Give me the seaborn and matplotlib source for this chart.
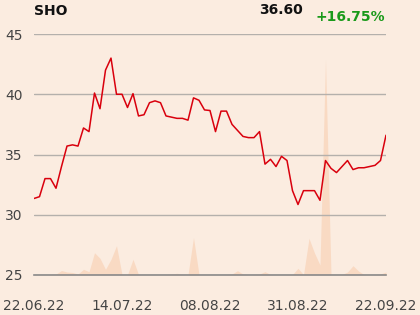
import matplotlib
matplotlib.use("Agg")
import matplotlib.pyplot as plt
import seaborn as sns
import pandas as pd
import numpy as np

# ---- data ----
price = [31.35, 31.5, 33.0, 33.0, 32.2, 34.0, 35.7, 35.8, 35.7, 37.2,
         36.9, 40.1, 38.8, 42.0, 43.0, 40.0, 40.0, 38.9, 40.05, 38.2,
         38.3, 39.3, 39.45, 39.3, 38.2, 38.1, 38.0, 38.0, 37.85, 39.7,
         39.5, 38.7, 38.65, 36.9, 38.6, 38.6, 37.5, 37.0, 36.5, 36.4,
         36.4, 36.9, 34.2, 34.6, 34.0, 34.85, 34.5, 32.0, 30.85, 32.0,
         32.0, 32.0, 31.2, 34.5, 33.85, 33.5, 34.0, 34.5, 33.75, 33.9,
         33.9, 34.0, 34.1, 34.5, 36.6]
volume = [3, 3, 3, 5, 10, 45, 30, 25, 10, 57,
          33, 223, 167, 57, 157, 293, 5, 3, 157, 5,
          3, 3, 3, 3, 5, 10, 17, 5, 3, 375,
          3, 3, 3, 3, 3, 5, 10, 43, 10, 3,
          5, 10, 33, 5, 3, 3, 5, 5, 67, 3,
          367, 220, 100, 2157, 3, 3, 5, 30, 93, 40,
          5, 3, 5, 10, 30]
tick_pos = [0, 16, 32, 48, 64]
tick_labels = ["22.06.22", "14.07.22", "08.08.22", "31.08.22", "22.09.22"]
ticker = "SHO"
last_price = "36.60"
change = "+16.75%"

df = pd.DataFrame({"idx": range(len(price)), "price": price, "volume": volume})

bg = "#FBECE0"
sns.set_style("white")
plt.rcParams["font.family"] = ["DejaVu Sans"]

fig = plt.figure(figsize=(4.2, 3.15), dpi=100, facecolor=bg)
ax = fig.add_axes([34/420, 40/315, 352/420, 241/315])
axv = ax.twinx()
ax.set_zorder(axv.get_zorder() + 1)
ax.patch.set_visible(False)
axv.patch.set_visible(False)
fig.patch.set_facecolor(bg)

# volume area
axv.fill_between(df["idx"], 0, df["volume"], color="#F9D9C2", lw=0, alpha=0.95)
axv.set_ylim(0, max(volume) / 0.895)
axv.set_yticks([])
for s in axv.spines.values():
    s.set_visible(False)

# price line
sns.lineplot(data=df, x="idx", y="price", ax=ax, color="#D9000D", lw=1.1)
ax.set_xlim(0, len(price) - 1)
ax.set_ylim(25, 45)
ax.set_yticks([25, 30, 35, 40, 45])
ax.set_yticklabels(["25", "30", "35", "40", "45"])
ax.grid(axis="y", color="#B4B0AC", lw=1)
ax.grid(axis="x", visible=False)
ax.set_xticks(tick_pos)
ax.set_xticklabels(tick_labels)
ax.set_xlabel("")
ax.set_ylabel("")
for k in ["top", "right", "left"]:
    ax.spines[k].set_visible(False)
ax.spines["bottom"].set_color("#8A8A8A")
ax.spines["bottom"].set_linewidth(1.2)
ax.tick_params(axis="x", length=10, width=1, color="#8A8A8A", pad=7,
               labelsize=10, labelcolor="#444444", direction="out")
ax.tick_params(axis="y", length=0, pad=8, labelsize=10, labelcolor="#444444")
ax.set_axisbelow(True)

fig.text(34/420, 1 - 11/315, ticker, fontsize=10, fontweight="bold",
         color="#111111", va="center", ha="left")
fig.text(303/420, 1 - 10/315, last_price, fontsize=10, fontweight="bold",
         color="#111111", va="center", ha="right")
fig.text(385/420, 1 - 17/315, change, fontsize=10, fontweight="bold",
         color="#1A9A1A", va="center", ha="right")

fig.savefig("out.png", dpi=100, facecolor=bg)
